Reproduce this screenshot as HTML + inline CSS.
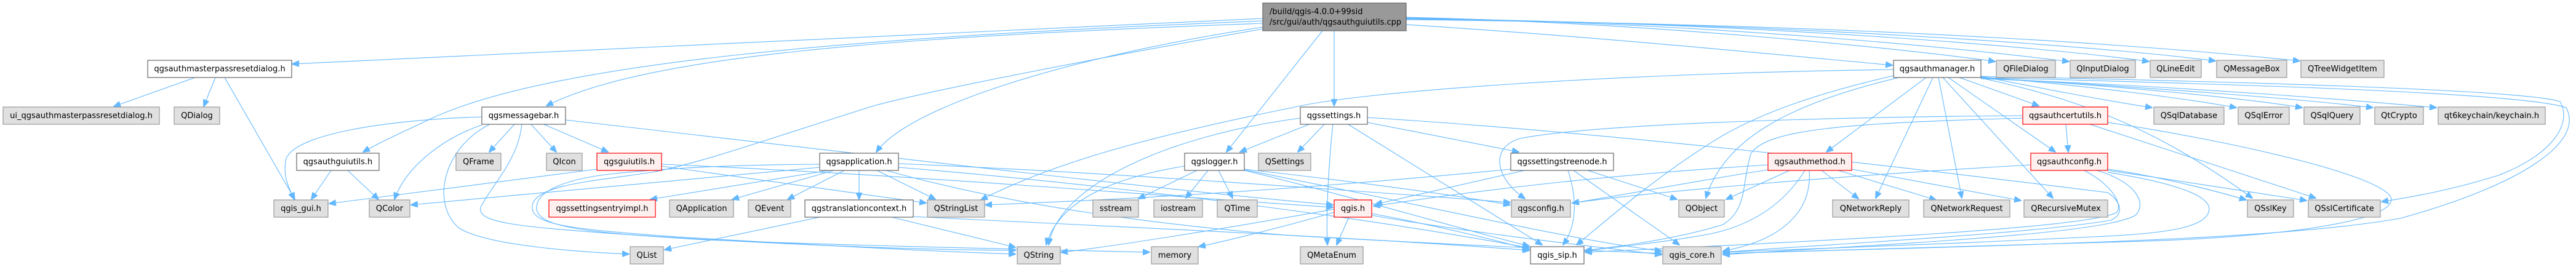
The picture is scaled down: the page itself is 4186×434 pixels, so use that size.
<!DOCTYPE html>
<html><head><meta charset="utf-8"><style>
html,body{margin:0;padding:0;background:#fff;}
svg{display:block;}
text{font-family:"DejaVu Sans","Liberation Sans",sans-serif;font-size:13px;fill:#000;}
.e{fill:none;stroke:#63b8ff;stroke-width:1.1;marker-end:url(#a);}
.g{fill:#e0e0e0;stroke:#999999;stroke-width:1.2;}
.w{fill:#ffffff;stroke:#666666;stroke-width:1.2;}
.r{fill:#fff0f0;stroke:#ff0000;stroke-width:1.2;}
.m{fill:#999999;stroke:#666666;stroke-width:1.2;}
</style></head><body>
<svg width="4186" height="434" viewBox="0 0 4186 434" xmlns="http://www.w3.org/2000/svg">
<defs><marker id="a" markerWidth="12" markerHeight="10" refX="11" refY="5" orient="auto" markerUnits="userSpaceOnUse"><path d="M0,0 L12,5 L0,10 z" fill="#63b8ff" stroke="#63b8ff"/></marker></defs>
<rect width="4186" height="434" fill="#fff"/>
<g>
<path class="e" d="M2052,30 C1700,45 1000,80 475,104"/>
<path class="e" d="M2052,34 C1400,60 900,100 700,193 C660,212 620,230 590,247"/>
<path class="e" d="M2052,38 C1450,60 1050,90 888,172"/>
<path class="e" d="M2052,44 C1750,90 1480,170 1424,247"/>
<path class="e" d="M2052,47 C1750,100 1500,150 1420,172 C1250,225 1150,262 1060,280 C960,295 880,300 866,330 C855,365 920,372 1100,385 C1350,400 1550,410 1650,413"/>
<path class="e" d="M2149,50 L1993,247"/>
<path class="e" d="M2168,50 L2168,172"/>
<path class="e" d="M2285,40 C2600,60 2900,90 3075,106"/>
<path class="e" d="M2285,28 C2700,38 3100,80 3242,100"/>
<path class="e" d="M2285,29 C2800,38 3200,80 3362,100"/>
<path class="e" d="M2285,30 C2900,38 3350,80 3492,100"/>
<path class="e" d="M2285,31 C3000,40 3450,80 3600,99"/>
<path class="e" d="M2285,32 C3100,40 3550,80 3737,99"/>
<path class="e" d="M317,126 L185,173"/>
<path class="e" d="M350,126 L331,173"/>
<path class="e" d="M365,126 L479,324"/>
<path class="e" d="M538,277 L506,324"/>
<path class="e" d="M565,277 L615,324"/>
<path class="e" d="M783,190 C620,195 470,220 464,262 C460,290 470,305 478,324"/>
<path class="e" d="M783,203 C720,225 660,270 641,324"/>
<path class="e" d="M837,201 L795,247"/>
<path class="e" d="M862,201 L904,247"/>
<path class="e" d="M881,201 L988,247"/>
<path class="e" d="M796,202 C720,240 700,330 745,370 C790,400 950,410 1022,413"/>
<path class="e" d="M848,202 C842,260 800,300 782,335 C770,362 840,368 1000,380 C1300,400 1500,406 1650,407"/>
<path class="e" d="M919,195 C1400,250 1900,310 2166,333"/>
<path class="e" d="M970,275 L535,331"/>
<path class="e" d="M1075,270 L1505,330"/>
<path class="e" d="M1075,267 C1500,285 1900,320 2166,337"/>
<path class="e" d="M1332,272 L668,333"/>
<path class="e" d="M1347,277 L1057,324"/>
<path class="e" d="M1355,277 L1190,324"/>
<path class="e" d="M1372,277 L1280,324"/>
<path class="e" d="M1396,277 L1396,324"/>
<path class="e" d="M1425,277 L1520,324"/>
<path class="e" d="M1332,267 C1200,268 1100,272 1000,282 C920,290 875,310 872,335 C868,370 950,378 1150,390 C1400,400 1700,406 1868,410"/>
<path class="e" d="M1440,277 C1700,350 2000,375 2100,383 C2400,400 2600,408 2700,412"/>
<path class="e" d="M1460,266 C1800,280 2200,310 2454,329"/>
<path class="e" d="M1460,272 C1800,300 2200,350 2485,403"/>
<path class="e" d="M1332,353 L1080,406"/>
<path class="e" d="M1449,353 L1650,402"/>
<path class="e" d="M1484,352 C1800,368 2200,385 2485,407"/>
<path class="e" d="M1925,270 C1800,290 1720,330 1700,398"/>
<path class="e" d="M1945,277 L1850,323"/>
<path class="e" d="M1963,277 L1927,322"/>
<path class="e" d="M1980,277 L2003,322"/>
<path class="e" d="M2022,275 C2200,295 2350,315 2454,333"/>
<path class="e" d="M2022,277 C2200,320 2400,380 2485,400"/>
<path class="e" d="M2022,276 C2300,330 2550,390 2700,408"/>
<path class="e" d="M2130,201 L2015,247"/>
<path class="e" d="M2153,201 L2109,247"/>
<path class="e" d="M2166,201 C2158,280 2155,350 2157,398"/>
<path class="e" d="M2189,201 L2506,398"/>
<path class="e" d="M2222,199 L2468,247"/>
<path class="e" d="M2113,192 C1900,220 1720,300 1704,398"/>
<path class="e" d="M2222,191 C2600,215 3000,260 3425,313 C3450,330 3450,350 3430,358 C3300,380 3000,395 2800,410"/>
<path class="e" d="M3077,113 C2600,120 2200,150 2100,175 C1850,225 1700,270 1594,325"/>
<path class="e" d="M3130,126 L2968,247"/>
<path class="e" d="M3141,126 L3048,322"/>
<path class="e" d="M3150,126 L3188,322"/>
<path class="e" d="M3157,126 L3336,322"/>
<path class="e" d="M3166,126 L3340,247"/>
<path class="e" d="M3184,126 L3313,172"/>
<path class="e" d="M3086,126 C2900,170 2800,230 2772,322"/>
<path class="e" d="M3077,123 C2960,150 2870,180 2800,220 C2700,280 2620,350 2562,398"/>
<path class="e" d="M3219,124 C3300,140 3400,160 3497,175"/>
<path class="e" d="M3219,125 C3400,140 3550,160 3634,175"/>
<path class="e" d="M3219,126 C3450,140 3650,160 3741,175"/>
<path class="e" d="M3219,127 C3500,142 3750,162 3856,175"/>
<path class="e" d="M3219,128 C3550,140 3850,165 3959,175"/>
<path class="e" d="M3219,124 C3600,132 4100,145 4160,165 C4180,200 4150,250 4060,285 C3980,310 3920,320 3870,328"/>
<path class="e" d="M3219,126 C3600,136 4100,150 4170,175 C4200,230 4100,300 3900,355 C3700,390 3300,398 2800,412"/>
<path class="e" d="M3219,127 C3400,165 3520,220 3660,322"/>
<path class="e" d="M3357,201 L3361,247"/>
<path class="e" d="M3287,188 C3000,190 2600,200 2470,225 C2420,240 2430,290 2478,323"/>
<path class="e" d="M3287,192 C3000,200 2870,210 2845,250 C2830,300 2840,340 2800,365 C2720,390 2620,402 2576,407"/>
<path class="e" d="M3396,202 L3763,322"/>
<path class="e" d="M3425,199 C3600,225 3860,280 3885,320 C3900,360 3700,385 3486,392 C3200,400 2950,408 2800,412"/>
<path class="e" d="M3300,268 C3000,285 2700,310 2555,330"/>
<path class="e" d="M3425,275 C3500,285 3600,310 3650,325"/>
<path class="e" d="M3425,277 C3550,295 3700,318 3748,326"/>
<path class="e" d="M3387,277 C3430,300 3450,330 3440,345 C3400,370 3000,390 2576,410"/>
<path class="e" d="M3407,277 C3470,295 3490,330 3470,350 C3420,380 3100,395 2800,414"/>
<path class="e" d="M3425,280 C3520,295 3590,315 3590,340 C3588,370 3520,380 3400,385 C3200,395 2950,405 2800,410"/>
<path class="e" d="M2908,277 L2805,324"/>
<path class="e" d="M2960,277 L3020,323"/>
<path class="e" d="M2987,277 L3146,325"/>
<path class="e" d="M3009,275 L3284,326"/>
<path class="e" d="M2933,277 C2900,330 2850,365 2780,380 C2700,395 2620,402 2576,408"/>
<path class="e" d="M2940,277 C2945,340 2900,390 2800,408"/>
<path class="e" d="M2873,276 C2750,295 2650,315 2555,330"/>
<path class="e" d="M2873,268 C2600,285 2400,310 2232,335"/>
<path class="e" d="M2477,277 L2235,332"/>
<path class="e" d="M2455,275 C2200,300 1900,322 1601,333"/>
<path class="e" d="M2548,277 C2565,330 2560,370 2540,398"/>
<path class="e" d="M2580,277 L2725,324"/>
<path class="e" d="M2557,277 L2729,398"/>
<path class="e" d="M2192,353 L2172,398"/>
<path class="e" d="M2229,347 C2350,370 2450,395 2485,406"/>
<path class="e" d="M2229,350 C2400,380 2600,402 2700,414"/>
<path class="e" d="M2168,345 C2100,365 2000,390 1948,401"/>
<path class="e" d="M2168,340 C2000,370 1800,402 1724,410"/>
</g>
<g>
<rect class="m" x="2052" y="5" width="233" height="45"/>
<text x="2063" y="23">/build/qgis-4.0.0+99sid</text>
<text x="2063" y="40">/src/gui/auth/qgsauthguiutils.cpp</text>

<rect class="w" x="240" y="98" width="234" height="28"/><text x="357" y="116" text-anchor="middle">qgsauthmasterpassresetdialog.h</text>
<rect class="w" x="3077" y="98" width="142" height="28"/><text x="3148" y="116" text-anchor="middle">qgsauthmanager.h</text>
<rect class="g" x="3244" y="98" width="96" height="28"/><text x="3292" y="116" text-anchor="middle">QFileDialog</text>
<rect class="g" x="3364" y="98" width="106" height="28"/><text x="3417" y="116" text-anchor="middle">QInputDialog</text>
<rect class="g" x="3494" y="98" width="83" height="28"/><text x="3535.5" y="116" text-anchor="middle">QLineEdit</text>
<rect class="g" x="3602" y="98" width="114" height="28"/><text x="3659" y="116" text-anchor="middle">QMessageBox</text>
<rect class="g" x="3739" y="98" width="135" height="28"/><text x="3806.5" y="116" text-anchor="middle">QTreeWidgetItem</text>

<rect class="g" x="5" y="174" width="254" height="28"/><text x="132" y="192" text-anchor="middle">ui_qgsauthmasterpassresetdialog.h</text>
<rect class="g" x="283" y="174" width="74" height="28"/><text x="320" y="192" text-anchor="middle">QDialog</text>
<rect class="w" x="783" y="174" width="136" height="28"/><text x="851" y="192" text-anchor="middle">qgsmessagebar.h</text>
<rect class="w" x="2113" y="174" width="109" height="28"/><text x="2167.5" y="192" text-anchor="middle">qgssettings.h</text>
<rect class="r" x="3287" y="174" width="138" height="28"/><text x="3356" y="192" text-anchor="middle">qgsauthcertutils.h</text>
<rect class="g" x="3500" y="174" width="114" height="28"/><text x="3557" y="192" text-anchor="middle">QSqlDatabase</text>
<rect class="g" x="3637" y="174" width="83" height="28"/><text x="3678.5" y="192" text-anchor="middle">QSqlError</text>
<rect class="g" x="3744" y="174" width="91" height="28"/><text x="3789.5" y="192" text-anchor="middle">QSqlQuery</text>
<rect class="g" x="3859" y="174" width="79" height="28"/><text x="3898.5" y="192" text-anchor="middle">QtCrypto</text>
<rect class="g" x="3962" y="174" width="174" height="28"/><text x="4049" y="192" text-anchor="middle">qt6keychain/keychain.h</text>

<rect class="w" x="482" y="249" width="134" height="28"/><text x="549" y="267" text-anchor="middle">qgsauthguiutils.h</text>
<rect class="g" x="741" y="249" width="73" height="28"/><text x="777.5" y="267" text-anchor="middle">QFrame</text>
<rect class="g" x="888" y="249" width="58" height="28"/><text x="917" y="267" text-anchor="middle">QIcon</text>
<rect class="r" x="970" y="249" width="105" height="28"/><text x="1022.5" y="267" text-anchor="middle">qgsguiutils.h</text>
<rect class="w" x="1332" y="249" width="128" height="28"/><text x="1396" y="267" text-anchor="middle">qgsapplication.h</text>
<rect class="w" x="1925" y="249" width="97" height="28"/><text x="1973.5" y="267" text-anchor="middle">qgslogger.h</text>
<rect class="g" x="2045" y="249" width="85" height="28"/><text x="2087.5" y="267" text-anchor="middle">QSettings</text>
<rect class="w" x="2455" y="249" width="167" height="28"/><text x="2538.5" y="267" text-anchor="middle">qgssettingstreenode.h</text>
<rect class="r" x="2873" y="249" width="136" height="28"/><text x="2941" y="267" text-anchor="middle">qgsauthmethod.h</text>
<rect class="r" x="3300" y="249" width="125" height="28"/><text x="3362.5" y="267" text-anchor="middle">qgsauthconfig.h</text>

<rect class="g" x="445" y="325" width="88" height="28"/><text x="489" y="343" text-anchor="middle">qgis_gui.h</text>
<rect class="g" x="600" y="325" width="66" height="28"/><text x="633" y="343" text-anchor="middle">QColor</text>
<rect class="r" x="892" y="325" width="173" height="28"/><text x="978.5" y="343" text-anchor="middle">qgssettingsentryimpl.h</text>
<rect class="g" x="1088" y="325" width="104" height="28"/><text x="1140" y="343" text-anchor="middle">QApplication</text>
<rect class="g" x="1216" y="325" width="69" height="28"/><text x="1250.5" y="343" text-anchor="middle">QEvent</text>
<rect class="w" x="1308" y="325" width="176" height="28"/><text x="1396" y="343" text-anchor="middle">qgstranslationcontext.h</text>
<rect class="g" x="1507" y="325" width="93" height="28"/><text x="1553.5" y="343" text-anchor="middle">QStringList</text>
<rect class="g" x="1776" y="325" width="74" height="28"/><text x="1813" y="343" text-anchor="middle">sstream</text>
<rect class="g" x="1875" y="325" width="79" height="28"/><text x="1914.5" y="343" text-anchor="middle">iostream</text>
<rect class="g" x="1978" y="325" width="65" height="28"/><text x="2010.5" y="343" text-anchor="middle">QTime</text>
<rect class="r" x="2168" y="325" width="61" height="28"/><text x="2198.5" y="343" text-anchor="middle">qgis.h</text>
<rect class="g" x="2456" y="325" width="96" height="28"/><text x="2504" y="343" text-anchor="middle">qgsconfig.h</text>
<rect class="g" x="2728" y="325" width="74" height="28"/><text x="2765" y="343" text-anchor="middle">QObject</text>
<rect class="g" x="2978" y="325" width="124" height="28"/><text x="3040" y="343" text-anchor="middle">QNetworkReply</text>
<rect class="g" x="3126" y="325" width="140" height="28"/><text x="3196" y="343" text-anchor="middle">QNetworkRequest</text>
<rect class="g" x="3289" y="325" width="136" height="28"/><text x="3357" y="343" text-anchor="middle">QRecursiveMutex</text>
<rect class="g" x="3652" y="325" width="75" height="28"/><text x="3689.5" y="343" text-anchor="middle">QSslKey</text>
<rect class="g" x="3751" y="325" width="117" height="28"/><text x="3809.5" y="343" text-anchor="middle">QSslCertificate</text>

<rect class="g" x="1024" y="401" width="54" height="28"/><text x="1051" y="419" text-anchor="middle">QList</text>
<rect class="g" x="1653" y="401" width="70" height="28"/><text x="1688" y="419" text-anchor="middle">QString</text>
<rect class="g" x="1871" y="401" width="76" height="28"/><text x="1909" y="419" text-anchor="middle">memory</text>
<rect class="g" x="2113" y="401" width="102" height="28"/><text x="2164" y="419" text-anchor="middle">QMetaEnum</text>
<rect class="w" x="2487" y="401" width="87" height="28"/><text x="2530.5" y="419" text-anchor="middle">qgis_sip.h</text>
<rect class="g" x="2702" y="401" width="95" height="28"/><text x="2749.5" y="419" text-anchor="middle">qgis_core.h</text>
</g>
</svg>
</body></html>
